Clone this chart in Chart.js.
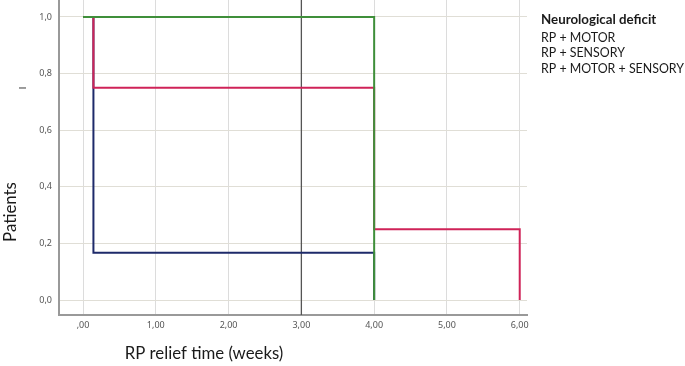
<!DOCTYPE html>
<html>
<head>
<meta charset="utf-8">
<script src="https://cdn.jsdelivr.net/npm/chart.js@4/dist/chart.umd.min.js"></script>
<style>
  html, body { margin: 0; padding: 0; background: #ffffff; }
  #wrap { width: 685px; height: 366px; position: relative; }
</style>
</head>
<body>
<div id="wrap"><canvas id="c" width="685" height="366"></canvas></div>
<script>
// ---- data ----
const legendTitle = "Neurological deficit";
const seriesNames = ["RP + MOTOR", "RP + SENSORY", "RP + MOTOR + SENSORY"];
// Kaplan-Meier step points: time (weeks) and proportion of patients
const motorTimes = [0, 4];
const motorValues = [1, 0];
const sensoryTimes = [0, 0.143, 4, 6];
const sensoryValues = [1, 0.75, 0.25, 0];
const motorSensoryTimes = [0, 0.143, 4];
const motorSensoryValues = [1, 0.167, 0];
const referenceTime = [3, 3];
const referenceValues = [-0.06, 1.07];
const xTickValues = [0, 1, 2, 3, 4, 5, 6];
const xTickLabels = [",00", "1,00", "2,00", "3,00", "4,00", "5,00", "6,00"];
const yTickValues = [0, 0.2, 0.4, 0.6, 0.8, 1.0];
const yTickLabels = ["0,0", "0,2", "0,4", "0,6", "0,8", "1,0"];
const xTitle = "RP relief time (weeks)";
const yTitle = "Patients";

function pts(xs, ys) { return xs.map((x, i) => ({ x: x, y: ys[i] })); }

const textPlugin = {
  id: 'texts',
  afterDraw(chart) {
    const ctx = chart.ctx;
    ctx.save();
    ctx.fillStyle = '#1a1a1a';
    ctx.textBaseline = 'middle';
    // legend
    ctx.textAlign = 'left';
    ctx.font = 'bold 13.3px Lato';
    ctx.fillText(legendTitle, 541, 20);
    ctx.font = '12.4px Lato';
    seriesNames.forEach((n, i) => ctx.fillText(n, 541, 37.5 + i * 15.8));
    // x title
    ctx.font = '16.8px Lato';
    ctx.textAlign = 'center';
    ctx.fillText(xTitle, 204, 354);
    // y title
    ctx.save();
    ctx.translate(11, 212);
    ctx.rotate(-Math.PI / 2);
    ctx.fillText(yTitle, 0, 0);
    ctx.restore();
    // small stray mark
    ctx.save();
    ctx.translate(23, 88);
    ctx.rotate(-Math.PI / 2);
    ctx.font = '9px Lato';
    ctx.fillText('I', 0, 0);
    ctx.restore();
    ctx.restore();
  }
};

new Chart(document.getElementById('c'), {
  type: 'line',
  data: {
    datasets: [
      { label: seriesNames[0], data: pts(motorTimes, motorValues), stepped: true,
        borderColor: '#3f8f3a', borderWidth: 2, pointRadius: 0, fill: false, order: 1 },
      { label: seriesNames[1], data: pts(sensoryTimes, sensoryValues), stepped: true,
        borderColor: '#cf2358', borderWidth: 2, pointRadius: 0, fill: false, order: 2 },
      { label: seriesNames[2], data: pts(motorSensoryTimes, motorSensoryValues), stepped: true,
        borderColor: '#1e2a6a', borderWidth: 2, pointRadius: 0, fill: false, order: 3 },
      { label: 'ref', data: pts(referenceTime, referenceValues),
        borderColor: '#555555', borderWidth: 1.3, pointRadius: 0, fill: false, order: 4 }
    ]
  },
  options: {
    responsive: false,
    animation: false,
    layout: { padding: { left: 0, top: 0, right: 158, bottom: 0 } },
    plugins: { legend: { display: false }, tooltip: { enabled: false } },
    scales: {
      x: {
        type: 'linear', min: -0.33, max: 6.1,
        afterBuildTicks(s) { s.ticks = xTickValues.map(v => ({ value: v })); },
        afterFit(s) { s.height = 51; s.paddingLeft = 0; s.paddingRight = 0; },
        ticks: {
          padding: 5, color: '#555', font: { family: 'Noto Sans', size: 9 },
          maxRotation: 0, autoSkip: false,
          callback(v) { const i = xTickValues.indexOf(v); return i >= 0 ? xTickLabels[i] : ''; }
        },
        grid: { color: '#dcdcdc', lineWidth: 1, drawTicks: false },
        border: { color: '#999999', width: 2 }
      },
      y: {
        type: 'linear', min: -0.053, max: 1.06,
        afterBuildTicks(s) { s.ticks = yTickValues.map(v => ({ value: v })); },
        afterFit(s) { s.width = 59; s.paddingTop = 0; s.paddingBottom = 0; },
        ticks: {
          padding: 7, color: '#555', font: { family: 'Noto Sans', size: 9 }, autoSkip: false,
          callback(v) { const i = yTickValues.findIndex(t => Math.abs(t - v) < 1e-6); return i >= 0 ? yTickLabels[i] : ''; }
        },
        grid: { color: '#e0ded6', lineWidth: 1, drawTicks: false },
        border: { color: '#999999', width: 2 }
      }
    }
  },
  plugins: [textPlugin]
});
</script>
</body>
</html>
